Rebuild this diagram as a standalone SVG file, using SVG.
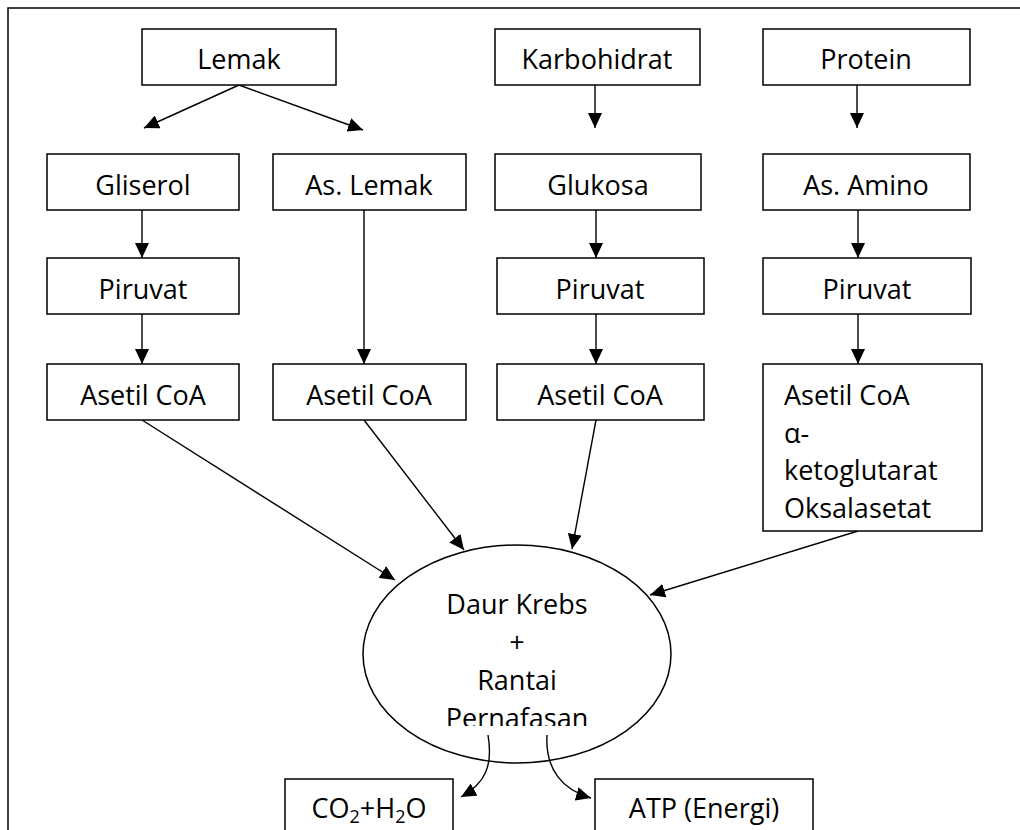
<svg xmlns="http://www.w3.org/2000/svg" width="1020" height="830" viewBox="0 0 1020 830">
<style>
  .box { fill: #fff; stroke: #000; stroke-width: 1.5; }
  .lbl { font-family: "Open Sans", "Noto Sans", sans-serif; font-size: 27px; fill: #000; text-anchor: middle; }
  .lft { text-anchor: start; }
  .con { stroke: #000; stroke-width: 1.4; fill: none; marker-end: url(#ah); }
  .frame { fill: none; stroke: #000; stroke-width: 1.5; }
</style>
<defs>
  <marker id="ah" markerUnits="userSpaceOnUse" markerWidth="16" markerHeight="14" refX="15" refY="7" orient="auto">
    <path d="M0,0 L15,7 L0,14 z" fill="#000"/>
  </marker>
  <clipPath id="clipE">
    <rect x="300" y="540" width="440" height="186"/>
  </clipPath>
</defs>
<rect width="1020" height="830" fill="#fff"/>
<path class="frame" d="M8,830 L8,8 L1030,8"/>

<g id="connectors">
  <line class="con" x1="239" y1="85" x2="144" y2="128"/>
  <line class="con" x1="239" y1="85" x2="363" y2="130"/>
  <line class="con" x1="595" y1="85" x2="595" y2="128"/>
  <line class="con" x1="857" y1="85" x2="857" y2="128"/>
  <line class="con" x1="142" y1="210" x2="142" y2="258"/>
  <line class="con" x1="364" y1="210" x2="364" y2="364"/>
  <line class="con" x1="596" y1="210" x2="596" y2="258"/>
  <line class="con" x1="858" y1="210" x2="858" y2="258"/>
  <line class="con" x1="142" y1="314" x2="142" y2="364"/>
  <line class="con" x1="596" y1="314" x2="596" y2="364"/>
  <line class="con" x1="858" y1="314" x2="858" y2="364"/>
  <line class="con" x1="142" y1="420" x2="395" y2="580"/>
  <line class="con" x1="364" y1="420" x2="464" y2="550"/>
  <line class="con" x1="596" y1="420" x2="572" y2="549"/>
  <line class="con" x1="858" y1="531" x2="650" y2="595"/>
  <path class="con" d="M488,735 C493,765 486,783 461,797"/>
  <path class="con" d="M547,735 C545,770 563,790 591,798"/>
</g>

<g id="lemak"><rect class="box" x="142" y="29" width="194" height="56"/><text class="lbl" x="239" y="69">Lemak</text></g>
<g id="karbohidrat"><rect class="box" x="495" y="29" width="205" height="56"/><text class="lbl" x="597" y="69">Karbohidrat</text></g>
<g id="protein"><rect class="box" x="763" y="29" width="207" height="56"/><text class="lbl" x="866" y="69">Protein</text></g>

<g id="gliserol"><rect class="box" x="47" y="154" width="192" height="56"/><text class="lbl" x="143" y="195">Gliserol</text></g>
<g id="aslemak"><rect class="box" x="273" y="154" width="193" height="56"/><text class="lbl" x="369" y="195">As. Lemak</text></g>
<g id="glukosa"><rect class="box" x="495" y="154" width="206" height="56"/><text class="lbl" x="598" y="195">Glukosa</text></g>
<g id="asamino"><rect class="box" x="763" y="154" width="207" height="56"/><text class="lbl" x="866" y="195">As. Amino</text></g>

<g id="piruvat1"><rect class="box" x="47" y="258" width="192" height="56"/><text class="lbl" x="143" y="299">Piruvat</text></g>
<g id="piruvat3"><rect class="box" x="497" y="258" width="207" height="56"/><text class="lbl" x="600" y="299">Piruvat</text></g>
<g id="piruvat4"><rect class="box" x="763" y="258" width="208" height="56"/><text class="lbl" x="867" y="299">Piruvat</text></g>

<g id="asetil1"><rect class="box" x="47" y="364" width="192" height="56"/><text class="lbl" x="143" y="405">Asetil CoA</text></g>
<g id="asetil2"><rect class="box" x="273" y="364" width="193" height="56"/><text class="lbl" x="369" y="405">Asetil CoA</text></g>
<g id="asetil3"><rect class="box" x="497" y="364" width="207" height="56"/><text class="lbl" x="600" y="405">Asetil CoA</text></g>
<g id="asetil4"><rect class="box" x="763" y="364" width="219" height="167"/>
  <text class="lbl lft" x="784" y="405">Asetil CoA</text>
  <text class="lbl lft" x="784" y="443">α-</text>
  <text class="lbl lft" x="784" y="480">ketoglutarat</text>
  <text class="lbl lft" x="784" y="518">Oksalasetat</text>
</g>

<g id="krebs">
  <ellipse cx="517" cy="654" rx="154" ry="109" fill="none" stroke="#000" stroke-width="1.5"/>
  <g clip-path="url(#clipE)">
    <text class="lbl" x="517" y="614">Daur Krebs</text>
    <text class="lbl" x="517" y="652">+</text>
    <text class="lbl" x="517" y="690">Rantai</text>
    <text class="lbl" x="517" y="728">Pernafasan</text>
  </g>
</g>

<g id="co2"><rect class="box" x="285" y="779" width="168" height="70"/><text class="lbl" x="369" y="818">CO<tspan font-size="18" dy="5">2</tspan><tspan dy="-5">+H</tspan><tspan font-size="18" dy="5">2</tspan><tspan dy="-5">O</tspan></text></g>
<g id="atp"><rect class="box" x="595" y="779" width="218" height="70"/><text class="lbl" x="704" y="818">ATP (Energi)</text></g>
</svg>
